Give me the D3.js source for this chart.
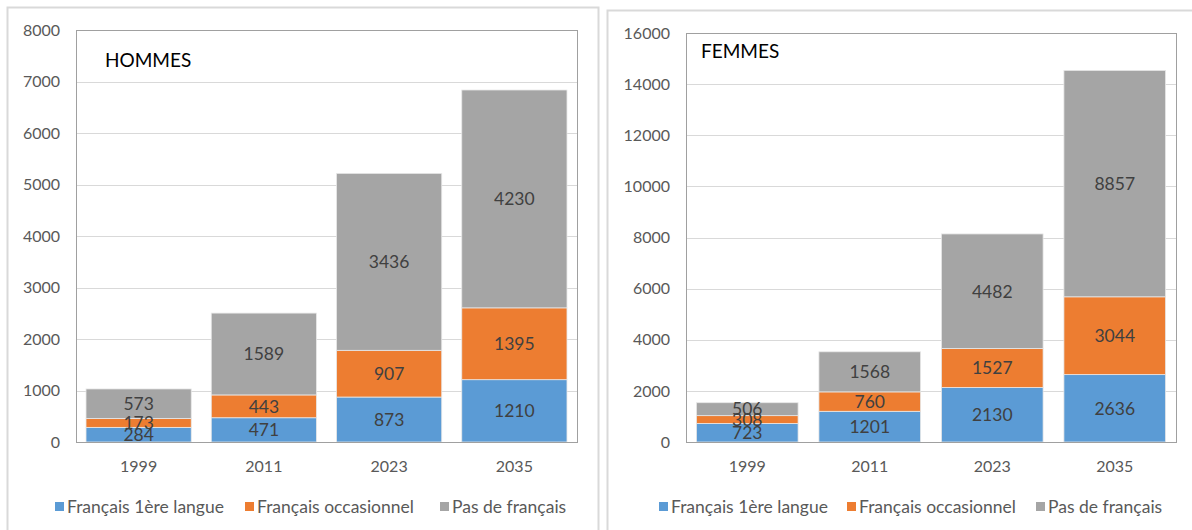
<!DOCTYPE html>
<html>
<head>
<meta charset="utf-8">
<script src="https://cdn.jsdelivr.net/npm/d3@7"></script>
<style>
  body { margin: 0; background: #fff; }
  svg { display: block; font-family: Lato, "Open Sans", sans-serif; }
</style>
</head>
<body>
<div id="container"></div>
<script>
// donnees
var annees = ["1999", "2011", "2023", "2035"];
var series = ["Français 1ère langue", "Français occasionnel", "Pas de français"];
var couleurs = ["#5b9bd5", "#ed7d31", "#a5a5a5"];

var hommesPremiere = [284, 471, 873, 1210];
var hommesOccasionnel = [173, 443, 907, 1395];
var hommesPas = [573, 1589, 3436, 4230];

var femmesPremiere = [723, 1201, 2130, 2636];
var femmesOccasionnel = [308, 760, 1527, 3044];
var femmesPas = [506, 1568, 4482, 8857];

var ticksHommes = [0, 1000, 2000, 3000, 4000, 5000, 6000, 7000, 8000];
var ticksFemmes = [0, 2000, 4000, 6000, 8000, 10000, 12000, 14000, 16000];

var svg = d3.select("#container").append("svg")
    .attr("width", 1192)
    .attr("height", 530);

function drawPanel(cfg) {
    var rows = annees.map(function (a, i) {
        return { annee: a, s0: cfg.valeurs[0][i], s1: cfg.valeurs[1][i], s2: cfg.valeurs[2][i] };
    });
    var stack = d3.stack().keys(["s0", "s1", "s2"])(rows);

    // cadre exterieur
    svg.append("rect")
        .attr("x", cfg.box.x + 0.5).attr("y", cfg.box.y + 0.5)
        .attr("width", cfg.box.w).attr("height", cfg.box.h)
        .attr("fill", "none").attr("stroke", "#d9d9d9").attr("stroke-width", 2);

    var x = d3.scaleBand().domain(annees)
        .range([cfg.plot.l, cfg.plot.r]).paddingInner(cfg.pad).paddingOuter(cfg.pad / 2);
    var y = d3.scaleLinear().domain([0, d3.max(cfg.ticks)])
        .range([cfg.plot.b, cfg.plot.t]);

    var g = svg.append("g");

    // grille
    g.selectAll(".grid").data(cfg.ticks.slice(1, -1)).enter().append("line")
        .attr("x1", cfg.plot.l).attr("x2", cfg.plot.r)
        .attr("y1", function (d) { return Math.round(y(d)) + 0.5; })
        .attr("y2", function (d) { return Math.round(y(d)) + 0.5; })
        .attr("stroke", "#d9d9d9");

    // axe y
    var yAxis = g.append("g")
        .attr("transform", "translate(" + cfg.tickRight + ",0)")
        .call(d3.axisLeft(y).tickValues(cfg.ticks).tickFormat(d3.format("d"))
            .tickSize(0).tickPadding(0));
    yAxis.select(".domain").remove();
    yAxis.selectAll("text").attr("fill", "#595959").style("font-size", "16px")
        .style("font-family", "Lato, sans-serif");

    // barres empilees
    stack.forEach(function (serie, k) {
        g.selectAll(".bar" + k).data(serie).enter().append("rect")
            .attr("x", function (d) { return x(d.data.annee); })
            .attr("width", x.bandwidth())
            .attr("y", function (d) { return y(d[1]); })
            .attr("height", function (d) { return y(d[0]) - y(d[1]); })
            .attr("fill", couleurs[k])
            .attr("stroke", "#e8e8e8").attr("stroke-width", 0.8);
    });

    // etiquettes
    stack.forEach(function (serie, k) {
        g.selectAll(".lab" + k).data(serie).enter().append("text")
            .attr("x", function (d) { return x(d.data.annee) + x.bandwidth() / 2; })
            .attr("y", function (d) { return (y(d[0]) + y(d[1])) / 2; })
            .attr("dy", "0.36em")
            .attr("text-anchor", "middle")
            .attr("fill", "#404040")
            .style("font-size", "17.5px")
            .text(function (d) { return d[1] - d[0]; });
    });

    // cadre du graphique
    g.append("rect")
        .attr("x", cfg.plot.l + 0.5).attr("y", cfg.plot.t + 0.5)
        .attr("width", cfg.plot.r - cfg.plot.l).attr("height", cfg.plot.b - cfg.plot.t)
        .attr("fill", "none").attr("stroke", "#a0a0a0");

    // axe x
    g.selectAll(".xlab").data(annees).enter().append("text")
        .attr("x", function (d) { return x(d) + x.bandwidth() / 2; })
        .attr("y", cfg.plot.b + 30)
        .attr("text-anchor", "middle")
        .attr("fill", "#595959")
        .style("font-size", "16px")
        .text(function (d) { return d; });

    // titre
    g.append("text")
        .attr("x", cfg.titre.x).attr("y", cfg.titre.y)
        .attr("fill", "#000")
        .style("font-size", "19px")
        .text(cfg.titre.texte);

    // legende
    series.forEach(function (s, k) {
        g.append("rect")
            .attr("x", cfg.legende[k]).attr("y", 502)
            .attr("width", 9).attr("height", 9)
            .attr("fill", couleurs[k]);
        g.append("text")
            .attr("x", cfg.legende[k] + 12).attr("y", 513)
            .attr("fill", "#595959")
            .style("font-size", "17.5px")
            .text(s);
    });
}

drawPanel({
    box: { x: 7, y: 7, w: 591, h: 560 },
    plot: { l: 76, t: 30, r: 577, b: 442 },
    pad: 0.16,
    ticks: ticksHommes,
    tickRight: 60,
    valeurs: [hommesPremiere, hommesOccasionnel, hommesPas],
    titre: { texte: "HOMMES", x: 105, y: 67 },
    legende: [55, 245, 440]
});

drawPanel({
    box: { x: 607, y: 10, w: 620, h: 560 },
    plot: { l: 686, t: 33, r: 1176, b: 442 },
    pad: 0.17,
    ticks: ticksFemmes,
    tickRight: 670,
    valeurs: [femmesPremiere, femmesOccasionnel, femmesPas],
    titre: { texte: "FEMMES", x: 701, y: 58 },
    legende: [659, 847, 1036]
});
</script>
</body>
</html>
